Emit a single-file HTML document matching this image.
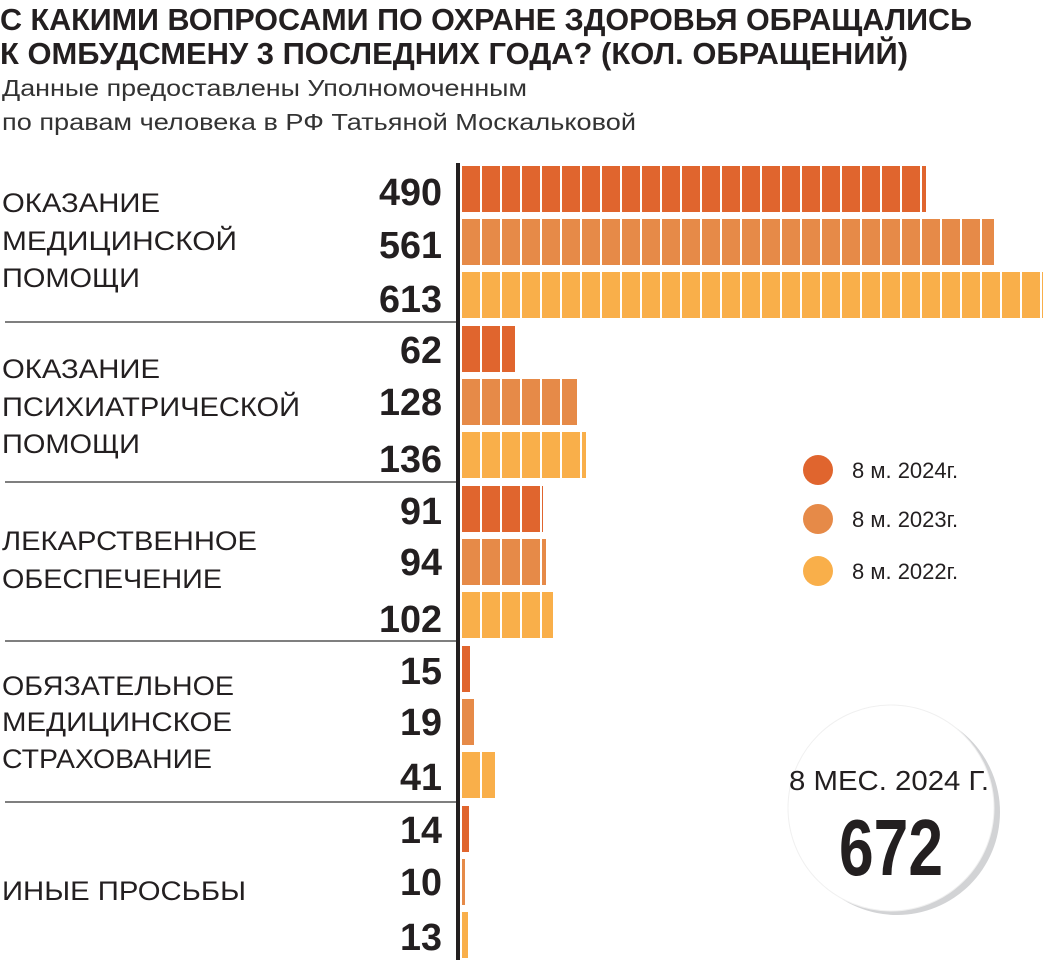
<!DOCTYPE html>
<html><head><meta charset="utf-8"><style>
html,body{margin:0;padding:0;background:#fff}
svg{display:block}
text{font-family:"Liberation Sans",sans-serif}
</style></head><body>
<svg id="s" width="1057" height="969" viewBox="0 0 1057 969" xmlns="http://www.w3.org/2000/svg">
<text x="0" y="30" font-size="31" font-weight="bold" fill="#231f20" textLength="972" lengthAdjust="spacingAndGlyphs">С КАКИМИ ВОПРОСАМИ ПО ОХРАНЕ ЗДОРОВЬЯ ОБРАЩАЛИСЬ</text>
<text x="0" y="64" font-size="31" font-weight="bold" fill="#231f20" textLength="908" lengthAdjust="spacingAndGlyphs">К ОМБУДСМЕНУ 3 ПОСЛЕДНИХ ГОДА? (КОЛ. ОБРАЩЕНИЙ)</text>
<text x="2" y="96" font-size="23" fill="#333" textLength="525" lengthAdjust="spacingAndGlyphs">Данные предоставлены Уполномоченным</text>
<text x="2" y="130" font-size="23" fill="#333" textLength="634" lengthAdjust="spacingAndGlyphs">по правам человека в РФ Татьяной Москальковой</text>
<g id="bars"></g>
<g fill="#231f20" font-size="27">
<text x="2" y="212" textLength="158" lengthAdjust="spacingAndGlyphs">ОКАЗАНИЕ</text>
<text x="2" y="250" textLength="235" lengthAdjust="spacingAndGlyphs">МЕДИЦИНСКОЙ</text>
<text x="2" y="287" textLength="138" lengthAdjust="spacingAndGlyphs">ПОМОЩИ</text>
<text x="2" y="378" textLength="158" lengthAdjust="spacingAndGlyphs">ОКАЗАНИЕ</text>
<text x="2" y="416" textLength="298" lengthAdjust="spacingAndGlyphs">ПСИХИАТРИЧЕСКОЙ</text>
<text x="2" y="453" textLength="138" lengthAdjust="spacingAndGlyphs">ПОМОЩИ</text>
<text x="2" y="550" textLength="255" lengthAdjust="spacingAndGlyphs">ЛЕКАРСТВЕННОЕ</text>
<text x="2" y="588" textLength="220" lengthAdjust="spacingAndGlyphs">ОБЕСПЕЧЕНИЕ</text>
<text x="2" y="695" textLength="232" lengthAdjust="spacingAndGlyphs">ОБЯЗАТЕЛЬНОЕ</text>
<text x="2" y="731" textLength="230" lengthAdjust="spacingAndGlyphs">МЕДИЦИНСКОЕ</text>
<text x="2" y="768" textLength="210" lengthAdjust="spacingAndGlyphs">СТРАХОВАНИЕ</text>
<text x="2" y="900" textLength="244" lengthAdjust="spacingAndGlyphs">ИНЫЕ ПРОСЬБЫ</text>
</g>
<g stroke="#555" stroke-width="1.5">
<line x1="5" y1="322" x2="456" y2="322"/><line x1="5" y1="482" x2="456" y2="482"/>
<line x1="5" y1="641" x2="456" y2="641"/><line x1="5" y1="802" x2="456" y2="802"/>
</g>
<rect x="456" y="163" width="4" height="797" fill="#231f20"/>
<circle cx="818" cy="470" r="15" fill="#e0652e"/><circle cx="818" cy="519" r="15" fill="#e68a48"/><circle cx="818" cy="571" r="15" fill="#f9af4a"/>
<g font-size="22" fill="#231f20">
<text x="852" y="478">8 м. 2024г.</text><text x="852" y="527">8 м. 2023г.</text><text x="852" y="579">8 м. 2022г.</text>
</g>
<circle cx="897" cy="812" r="103" fill="#d2d3d5"/>
<circle cx="891" cy="808" r="103" fill="#fff" stroke="#f0f0f0" stroke-width="1"/>
<text x="889" y="790" font-size="28" text-anchor="middle" fill="#231f20" textLength="200" lengthAdjust="spacingAndGlyphs">8 МЕС. 2024 Г.</text>
<text x="891" y="875" font-size="80" font-weight="bold" text-anchor="middle" fill="#231f20" textLength="104" lengthAdjust="spacingAndGlyphs">672</text>
</svg>
<script>
var vals=[[490,561,613],[62,128,136],[91,94,102],[15,19,41],[14,10,13]];
var ends=[[926,994,1043],[515,577,586],[543,546,553],[470,474,495],[469,465,468]];
var base=[[205,258,312],[363,415,472],[524,575,632],[684,735,790],[843,895,950]];
var cols=["#e0652e","#e68a48","#f9af4a"];
var g=document.getElementById("bars"),out="";
for(var i=0;i<5;i++)for(var j=0;j<3;j++){
 var v=vals[i][j],x0=462,w=ends[i][j]-x0,y=166+160*i+53*j;
 for(var x=0;x<w;x+=20){var sw=Math.min(18,w-x);out+='<rect x="'+(x0+x)+'" y="'+y+'" width="'+sw+'" height="46" fill="'+cols[j]+'"/>';}
 var tl=String(v).length*21;
 out+='<text x="442" y="'+base[i][j]+'" font-size="38" font-weight="bold" text-anchor="end" fill="#231f20" textLength="'+tl+'" lengthAdjust="spacingAndGlyphs">'+v+'</text>';
}
g.innerHTML=out;
</script>
</body></html>
